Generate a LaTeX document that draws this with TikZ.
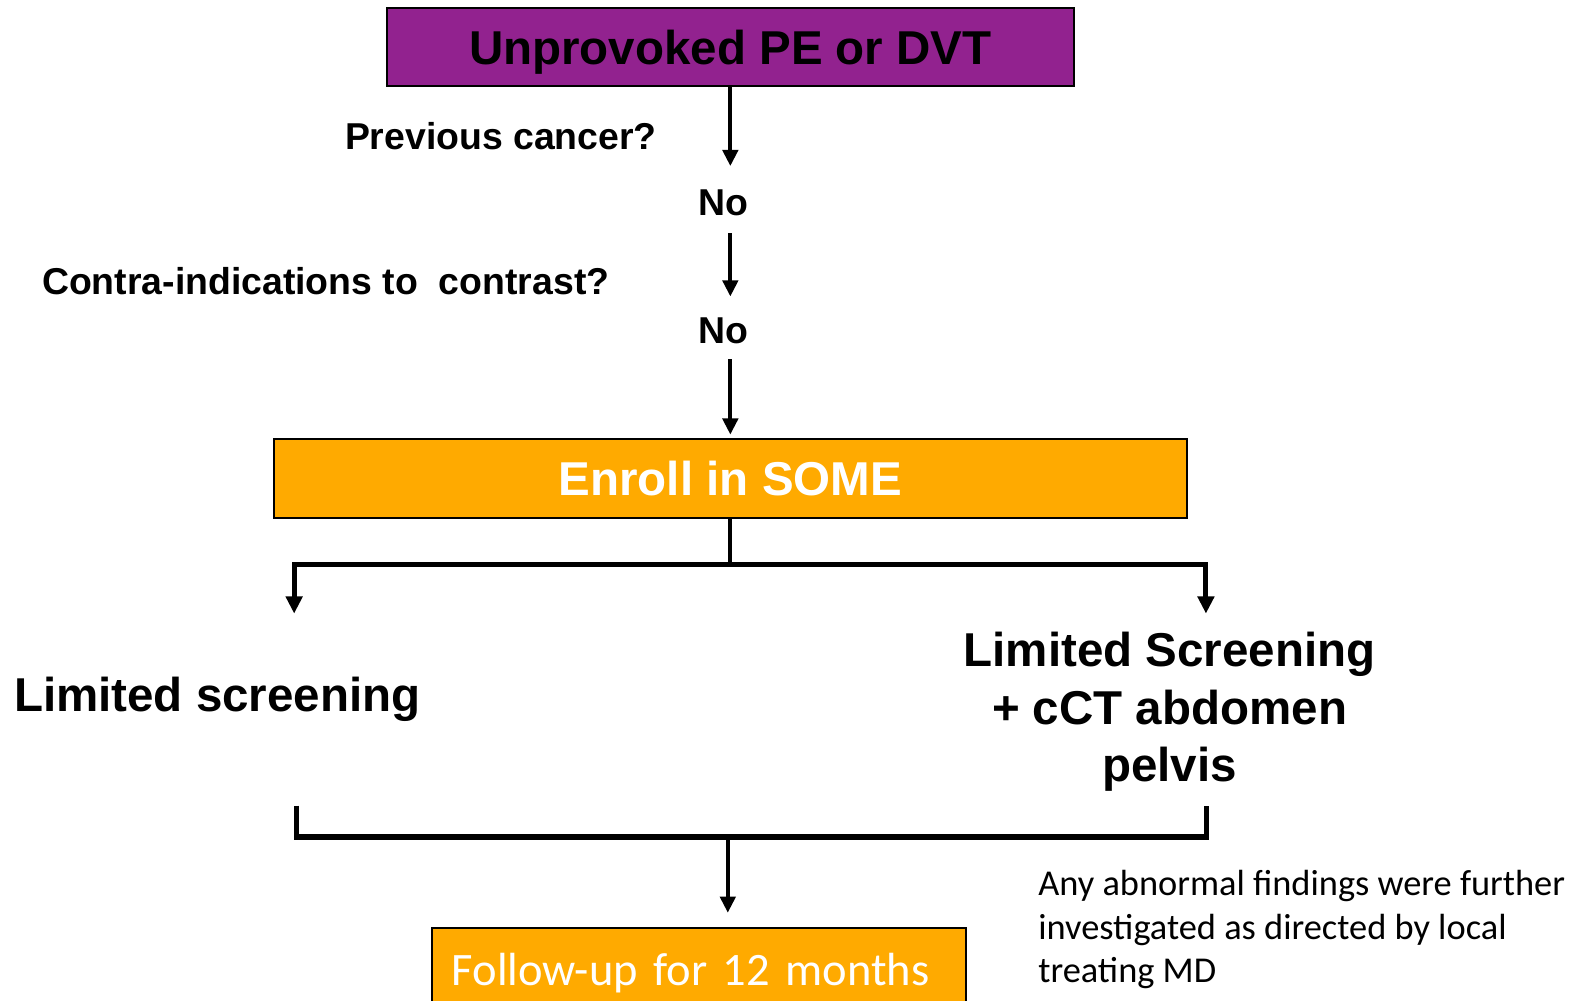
\documentclass[tikz,border=0pt]{standalone}
\usepackage{fontspec}
\setmainfont{Liberation Sans}
\newfontfamily\calibrifont{Carlito}
\usetikzlibrary{arrows.meta}
\definecolor{plum}{RGB}{146,34,143}
\definecolor{amber}{RGB}{255,170,0}

\begin{document}
\begin{tikzpicture}[x=1pt, y=-1pt,
    box/.style={draw=black, line width=2pt, inner sep=0pt, text height=34pt, text depth=0pt},
    flow/.style={line width=4pt, -{Triangle[width=15pt,length=16pt]}},
    bar/.style={line width=5pt},
    ask/.style={font=\fontsize{37}{44}\selectfont\bfseries, inner sep=0pt},
    big/.style={font=\fontsize{47}{57}\selectfont\bfseries, inner sep=0pt}]
  \useasboundingbox (0,0) rectangle (1568,990); %%% page = reference frame

  %%% top of the flow
  \node[box, big, fill=plum, minimum width=679pt, minimum height=77pt] (pe) at (722.5,46.5) {Unprovoked PE or DVT};
  \node[ask, anchor=base east] (cancer) at (650,148) {Previous cancer?};
  \node[ask, anchor=base] (no1) at (716,213) {No};
  \node[ask, anchor=base east] (contrast) at (603,291) {Contra-indications to\ \ contrast?};
  \node[ask, anchor=base] (no2) at (716,340) {No};
  \node[box, big, fill=amber, text=white, minimum width=903pt, minimum height=78pt] (some) at (722.5,473) {Enroll in SOME};

  \draw[flow, shorten >=23pt] (pe.south) -- (pe.south |- no1.north);
  \draw[flow, shorten <=17pt, shorten >=21pt] (pe.south |- no1.south) -- (pe.south |- no2.north);
  \draw[flow, shorten <=15pt, shorten >=3pt] (pe.south |- no2.south) -- (some.north);

  %%% the two arms
  \coordinate (fork) at (722.5,558);
  \coordinate (forkl) at (291,558);
  \coordinate (forkr) at (1193,558);
  \coordinate (tipl) at (291,607);
  \coordinate (tipr) at (1193,607);
  \draw[line width=4pt] (some.south) -- (fork);
  \draw[bar, {Triangle[width=16pt,length=17pt]}-{Triangle[width=16pt,length=17pt]}] (tipl) -- (forkl) -- (forkr) -- (tipr);

  \node[big, anchor=base] (limited) at (215,704) {Limited screening};
  \node[big, anchor=north, align=center] (cct) at (1157,625) {Limited Screening\\+ cCT abdomen\\pelvis};

  %%% merge and follow-up
  \coordinate (joinl) at (293,797);
  \coordinate (joinr) at (1194,797);
  \coordinate (cornl) at (293,828);
  \coordinate (cornr) at (1194,828);
  \coordinate (merge) at (720,828);
  \draw[bar] (joinl) -- (cornl) -- (cornr) -- (joinr);

  \node[box, fill=amber, text=white, font=\calibrifont\fontsize{46}{55}\selectfont,
        minimum width=529pt, minimum height=100pt, text width=489pt, inner xsep=20pt,
        align=left, text height=32pt, text depth=18pt] (follow) at (691.5,968) {Follow-up for 12 months};
  \draw[flow, shorten >=14pt] (merge) -- (merge |- follow.north);

  \node[anchor=north west, align=left, inner sep=0pt, font=\calibrifont\fontsize{36}{43}\selectfont] (note) at (1027,861)
    {Any abnormal findings were further\\investigated as directed by local\\treating MD};
\end{tikzpicture}
\end{document}
